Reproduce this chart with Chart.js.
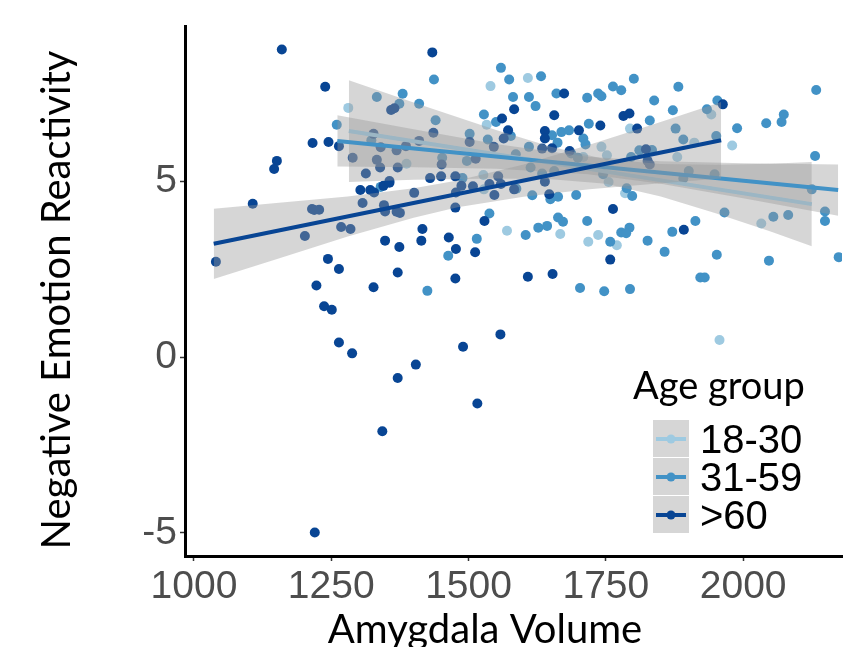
<!DOCTYPE html>
<html>
<head>
<meta charset="utf-8">
<script src="https://cdn.jsdelivr.net/npm/chart.js@4"></script>
<style>
  html, body { margin: 0; padding: 0; background: #fff; }
</style>
</head>
<body>
<canvas id="chart" width="847" height="647"></canvas>
<script>
// axis labels / legend text
const xTitle = 'Amygdala Volume';
const yTitle = 'Negative Emotion Reactivity';
const legendTitle = 'Age group';
const groupLabels = ['18-30', '31-59', '>60'];
const groupColors = ['#9ecae1', '#4292c6', '#084594'];
const xTicks = [1000, 1250, 1500, 1750, 2000];
const yTicks = [-5, 0, 5];

// scatter points
const youngX = [1281, 1387, 1527, 1533, 1540, 1570, 1608, 1755, 1667, 1718, 1736, 1770, 1957, 1528, 1709, 1742, 1752, 1794, 1911, 1942, 1980, 1880, 2033, 1785];
const youngY = [7.10, 5.51, 5.19, 6.62, 7.72, 3.60, 7.95, 4.99, 3.51, 3.29, 3.48, 3.19, 0.49, 4.78, 5.70, 5.99, 5.75, 6.51, 6.11, 6.91, 6.03, 5.70, 3.81, 4.67];

const midX = [1333, 1380, 1374, 1260, 1323, 1437, 1410, 1440, 1452, 1489,
  1502, 1497, 1535, 1528, 1550, 1559, 1574, 1581, 1577, 1340,
  1538, 1515, 1463, 1425, 1587, 1616, 1649, 1663, 1696, 1604,
  1627, 1643, 1663, 1672, 1716, 1758, 1778, 1703, 1747, 1794,
  1922, 1930, 2047, 1788, 1798, 1793, 1787, 1826, 1871, 1913,
  1857, 1952, 1966, 2055, 2082, 2149, 2149, 2174, 1891, 2125,
  1632, 1610, 1622, 1660, 1652, 1669, 1683, 1709, 1713, 1719,
  1716, 1736, 1742, 1763, 1778, 1610, 1662, 1586, 1656, 1699,
  1745, 1801, 1838, 1882, 1872, 1830, 1877, 1891, 1934, 1953,
  1951, 1989, 2042, 2070, 2074, 2133, 2131, 1811, 1834, 1901,
  1948, 1613, 1634, 1796, 1687];
const midY = [7.41, 7.50, 7.22, 6.62, 6.18, 7.91, 7.22, 6.75, 5.68, 5.10,
  6.36, 5.59, 6.20, 6.91, 6.70, 8.24, 7.91, 7.41, 6.30, 4.85,
  4.09, 3.37, 2.89, 1.89, 4.80, 4.61, 4.50, 4.57, 4.62, 3.48,
  3.69, 3.74, 3.98, 3.86, 3.88, 3.29, 3.55, 1.97, 1.88, 1.94,
  2.27, 2.27, 2.75, 4.81, 4.59, 3.69, 3.53, 3.32, 3.57, 3.88,
  3.00, 2.92, 4.12, 4.00, 4.05, 4.15, 3.88, 2.85, 5.09, 4.78,
  8.00, 7.41, 7.15, 7.51, 6.32, 6.41, 6.46, 6.23, 6.06, 6.65,
  7.39, 7.51, 7.43, 7.71, 7.60, 5.99, 6.11, 5.78, 5.30, 5.68,
  5.21, 7.93, 7.31, 7.70, 7.03, 6.74, 6.51, 6.20, 7.06, 7.31,
  6.30, 6.52, 6.66, 6.70, 6.91, 7.61, 5.73, 5.89, 5.90, 5.30,
  5.21, 5.40, 5.23, 5.70, 5.80];

const oldX = [1160, 1239, 1434, 1359, 1365, 1216, 1245, 1264, 1327, 1340,
  1369, 1289, 1333, 1339, 1371, 1313, 1151, 1146, 1356, 1436,
  1410, 1386, 1451, 1430, 1450, 1476, 1554, 1502, 1513, 1546,
  1583, 1561, 1572, 1564, 1303, 1321, 1328, 1345, 1356, 1401,
  1307, 1346, 1348, 1369, 1375, 1215, 1219, 1228, 1268, 1285,
  1202, 1040, 1107, 1476, 1487, 1508, 1538, 1559, 1547, 1583,
  1529, 1416, 1348, 1374, 1414, 1464, 1477, 1512, 1244, 1264,
  1371, 1476, 1223, 1327, 1237, 1251, 1264, 1288, 1371, 1404,
  1490, 1558, 1516, 1343, 1220, 1763, 1758, 1608, 1653, 1892,
  1674, 1656, 1639, 1639, 1701, 1740, 1634, 1652, 1684, 1782,
  1793, 1807, 1823, 1826, 1830, 1963, 1639, 1647, 1477];
const oldY = [8.76, 7.70, 8.68, 7.04, 7.09, 6.10, 6.13, 6.01, 6.36, 5.98,
  5.89, 5.68, 5.62, 5.40, 5.40, 5.23, 5.59, 5.36, 5.02, 6.39,
  6.16, 6.01, 5.49, 5.10, 5.15, 5.15, 5.15, 6.13, 5.65, 5.99,
  7.06, 6.80, 6.46, 6.23, 4.76, 4.76, 4.69, 4.88, 4.97, 4.68,
  4.39, 4.33, 4.15, 4.14, 4.11, 4.22, 4.19, 4.20, 3.71, 3.65,
  3.45, 2.72, 4.37, 4.26, 4.88, 4.87, 4.93, 4.93, 4.62, 4.78,
  3.88, 3.65, 3.32, 3.14, 3.32, 3.41, 3.08, 2.99, 2.80, 2.51,
  2.41, 2.24, 2.04, 1.99, 1.45, 1.35, 0.42, 0.11, -0.59, -0.21,
  0.30, 0.65, -1.32, -2.11, -4.99, 4.22, 2.78, 2.29, 2.37, 3.63,
  7.51, 6.89, 6.44, 6.23, 6.46, 6.60, 5.94, 5.95, 5.87, 6.87,
  6.94, 6.51, 5.92, 5.59, 5.49, 7.20, 5.00, 4.64, 4.69];

// fitted lines (end points) and confidence bands
const youngFitX = [1282, 2125];
const youngFitY = [6.44, 4.36];
const youngBandX = [1282, 1400, 1550, 1650, 1750, 1850, 1950, 2050, 2125];
const youngBandHi = [7.89, 7.25, 6.47, 5.99, 5.64, 5.50, 5.48, 5.51, 5.56];
const youngBandLo = [4.99, 5.05, 5.09, 5.07, 4.94, 4.58, 4.10, 3.58, 3.16];

const midFitX = [1261, 2173];
const midFitY = [6.16, 4.76];
const midBandX = [1261, 1400, 1550, 1717, 1850, 2000, 2173];
const midBandHi = [6.89, 6.49, 6.07, 5.71, 5.58, 5.52, 5.49];
const midBandLo = [5.43, 5.41, 5.37, 5.21, 4.94, 4.53, 4.03];

const oldFitX = [1036, 1960];
const oldFitY = [3.23, 6.18];
const oldBandX = [1036, 1150, 1280, 1400, 1480, 1600, 1720, 1840, 1960];
const oldBandHi = [4.23, 4.39, 4.58, 4.81, 5.03, 5.49, 6.05, 6.65, 7.27];
const oldBandLo = [2.23, 2.79, 3.44, 3.97, 4.27, 4.57, 4.78, 4.94, 5.09];

const bandFill = 'rgba(153,153,153,0.4)';
const tickFont = '"Liberation Sans", Arial, sans-serif';
const titleFont = 'Lato, "Open Sans", sans-serif';

const toXY = (xs, ys) => xs.map((x, i) => ({x: x, y: ys[i]}));

function fitLine(xs, ys, color) {
    return {
        data: toXY(xs, ys),
        borderColor: color,
        borderWidth: 4,
        pointRadius: 0,
        fill: false
    };
}

// upper edge fills down to the lower edge (next dataset)
function band(xs, hi, lo) {
    return [
        {data: toXY(xs, hi), borderWidth: 0, pointRadius: 0, backgroundColor: bandFill, fill: '+1'},
        {data: toXY(xs, lo), borderWidth: 0, pointRadius: 0, fill: false}
    ];
}

function points(xs, ys, color) {
    return {
        data: toXY(xs, ys),
        showLine: false,
        pointRadius: 5,
        pointBorderWidth: 0,
        pointBackgroundColor: color,
        pointBorderColor: color
    };
}

// first dataset is drawn on top
const datasets = [
    fitLine(oldFitX, oldFitY, groupColors[2]),
    ...band(oldBandX, oldBandHi, oldBandLo),
    fitLine(midFitX, midFitY, groupColors[1]),
    ...band(midBandX, midBandHi, midBandLo),
    fitLine(youngFitX, youngFitY, groupColors[0]),
    ...band(youngBandX, youngBandHi, youngBandLo),
    points(oldX, oldY, groupColors[2]),
    points(midX, midY, groupColors[1]),
    points(youngX, youngY, groupColors[0])
];

// axis titles and the legend, drawn ggplot style
const ggText = {
    id: 'ggText',
    afterDraw(chart) {
        const ctx = chart.ctx;
        ctx.save();
        ctx.fillStyle = '#000';
        ctx.font = '40px ' + titleFont;
        ctx.textBaseline = 'alphabetic';
        ctx.textAlign = 'center';
        ctx.fillText(xTitle, 485, 643);

        ctx.save();
        ctx.translate(70, 300);
        ctx.rotate(-Math.PI / 2);
        ctx.fillText(yTitle, 0, 0);
        ctx.restore();

        ctx.font = '38px ' + titleFont;
        ctx.textAlign = 'left';
        ctx.fillText(legendTitle, 633, 399);

        groupLabels.forEach((label, i) => {
            const top = 420 + i * 38;
            const mid = top + 19;
            ctx.fillStyle = 'rgb(214,214,214)';
            ctx.fillRect(653, top, 36, 37);
            ctx.strokeStyle = groupColors[i];
            ctx.lineWidth = 4;
            ctx.beginPath();
            ctx.moveTo(656, mid);
            ctx.lineTo(686, mid);
            ctx.stroke();
            ctx.fillStyle = groupColors[i];
            ctx.beginPath();
            ctx.arc(671, mid, 4.5, 0, Math.PI * 2);
            ctx.fill();
            ctx.fillStyle = '#000';
            ctx.font = '40px "Liberation Sans", Arial, sans-serif';
            ctx.fillText(label, 700, top + 33);
        });
        ctx.restore();
    }
};

new Chart(document.getElementById('chart'), {
    type: 'line',
    data: {datasets: datasets},
    plugins: [ggText],
    options: {
        responsive: false,
        animation: false,
        layout: {padding: {top: 25, left: 0, right: 0, bottom: 0}},
        plugins: {
            legend: {display: false},
            tooltip: {enabled: false}
        },
        scales: {
            x: {
                type: 'linear',
                min: 983.7,
                max: 2180,
                afterBuildTicks: s => { s.ticks = xTicks.map(v => ({value: v})); },
                afterFit: s => { s.height = 91; },
                border: {display: true, color: '#000', width: 3},
                grid: {drawOnChartArea: false, drawTicks: true, tickLength: 5, tickColor: '#333', tickWidth: 1.5},
                ticks: {
                    color: '#4d4d4d',
                    font: {family: tickFont, size: 39},
                    padding: 3,
                    maxRotation: 0,
                    autoSkip: false,
                    callback: v => String(v)
                }
            },
            y: {
                type: 'linear',
                min: -5.66,
                max: 9.42,
                afterBuildTicks: s => { s.ticks = yTicks.map(v => ({value: v})); },
                afterFit: s => { s.width = 185; },
                border: {display: true, color: '#000', width: 3},
                grid: {drawOnChartArea: false, drawTicks: true, tickLength: 5, tickColor: '#333', tickWidth: 1.5},
                ticks: {
                    color: '#4d4d4d',
                    font: {family: tickFont, size: 39},
                    padding: 3,
                    autoSkip: false,
                    callback: v => String(v)
                }
            }
        }
    }
});
</script>
</body>
</html>
